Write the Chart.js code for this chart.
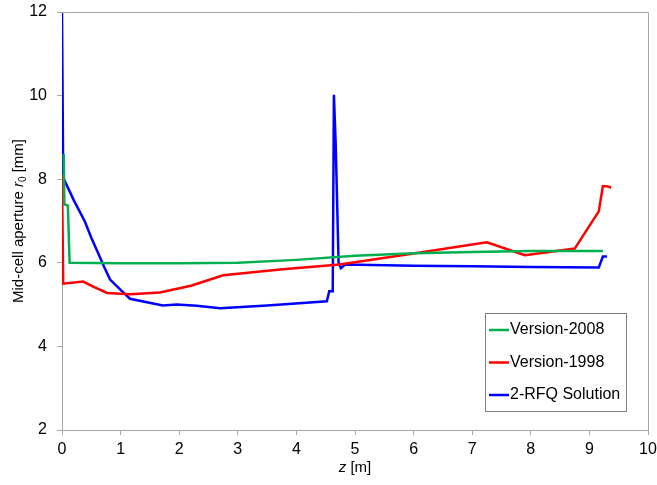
<!DOCTYPE html>
<html>
<head>
<meta charset="utf-8">
<script src="https://cdn.jsdelivr.net/npm/chart.js@4.4.0/dist/chart.umd.min.js"></script>
<style>
  html, body { margin: 0; padding: 0; background: #fff; }
  #wrap { width: 657px; height: 485px; }
</style>
</head>
<body>
<div id="wrap"><canvas id="chart" width="657" height="485"></canvas></div>
<script>
// z [m] and r0 [mm]
const zV2008 = [0.03, 0.04, 0.10, 0.13, 1, 2, 3, 4, 5, 6, 7, 8, 9.23];
const rV2008 = [8.6, 7.4, 7.37, 6.0, 5.99, 5.99, 6.0, 6.07, 6.17, 6.23, 6.26, 6.28, 6.28];

const zV1998 = [0.0, 0.02, 0.36, 0.55, 0.77, 1.16, 1.67, 2.2, 2.75, 3.72, 4.74, 6.0, 7.25, 7.9, 8.75, 9.16, 9.23, 9.3, 9.37];
const rV1998 = [8.1, 5.5, 5.55, 5.42, 5.28, 5.25, 5.29, 5.45, 5.7, 5.84, 5.96, 6.22, 6.49, 6.18, 6.34, 7.23, 7.83, 7.83, 7.8];

const zRFQ = [0.0, 0.02, 0.2, 0.39, 0.5, 0.61, 0.72, 0.82, 1.0, 1.16, 1.72, 1.96, 2.3, 2.7, 3.5, 4.52, 4.56, 4.62, 4.64, 4.67, 4.72, 4.76, 4.83, 6, 7, 8, 9.16, 9.23, 9.3];
const rRFQ = [12, 8.04, 7.5, 6.99, 6.6, 6.25, 5.9, 5.6, 5.35, 5.14, 4.98, 5.0, 4.97, 4.91, 4.98, 5.08, 5.32, 5.32, 10.02, 8.87, 6.0, 5.87, 5.96, 5.93, 5.92, 5.9, 5.89, 6.15, 6.15];

const seriesNames = ['Version-2008', 'Version-1998', '2-RFQ Solution'];
const seriesColors = ['#00b050', '#ff0000', '#0000ff'];

const xTicks = [0, 1, 2, 3, 4, 5, 6, 7, 8, 9, 10];
const yTicks = [2, 4, 6, 8, 10, 12];

const FONT = '"Liberation Sans", Arial, sans-serif';
const AXIS_GRAY = '#a6a6a6';

function toPoints(zs, rs) {
    return zs.map((z, i) => ({ x: z, y: rs[i] }));
}

const datasets = [
    toPoints(zV2008, rV2008),
    toPoints(zV1998, rV1998),
    toPoints(zRFQ, rRFQ)
].map((pts, i) => ({
    label: seriesNames[i],
    data: pts,
    borderColor: seriesColors[i],
    backgroundColor: seriesColors[i],
    borderWidth: 2.5,
    pointRadius: 0,
    showLine: true,
    tension: 0
}));

// frame, axis titles and the boxed legend
const decorPlugin = {
    id: 'decor',
    afterDraw(c) {
        const ctx = c.ctx;
        const a = c.chartArea;
        ctx.save();

        ctx.strokeStyle = AXIS_GRAY;
        ctx.lineWidth = 1;
        ctx.beginPath();
        ctx.moveTo(a.left, a.top + 0.5);
        ctx.lineTo(a.right + 0.5, a.top + 0.5);
        ctx.lineTo(a.right + 0.5, a.bottom);
        ctx.stroke();

        // x title: "z [m]"
        ctx.fillStyle = '#000';
        ctx.textBaseline = 'middle';
        ctx.font = 'italic 15px ' + FONT;
        const zw = ctx.measureText('z').width;
        ctx.font = '15px ' + FONT;
        const restX = ' [m]';
        const rw = ctx.measureText(restX).width;
        let x0 = (a.left + a.right) / 2 - (zw + rw) / 2;
        ctx.font = 'italic 15px ' + FONT;
        ctx.textAlign = 'left';
        ctx.fillText('z', x0, 468);
        ctx.font = '15px ' + FONT;
        ctx.fillText(restX, x0 + zw, 468);

        // y title: "Mid-cell aperture r0 [mm]"
        ctx.translate(19, 221);
        ctx.rotate(-Math.PI / 2);
        const parts = [
            { t: 'Mid-cell aperture ', f: '15px ' + FONT, dy: 0 },
            { t: 'r', f: 'italic 15px ' + FONT, dy: 0 },
            { t: '0', f: '10px ' + FONT, dy: 4 },
            { t: ' [mm]', f: '15px ' + FONT, dy: 0 }
        ];
        let total = 0;
        parts.forEach(p => { ctx.font = p.f; p.w = ctx.measureText(p.t).width; total += p.w; });
        let px = -total / 2;
        parts.forEach(p => {
            ctx.font = p.f;
            ctx.fillText(p.t, px, p.dy);
            px += p.w;
        });
        ctx.setTransform(1, 0, 0, 1, 0, 0);

        // legend
        const lx = 485, ly = 313, lw = 141, lh = 98;
        ctx.fillStyle = '#fff';
        ctx.fillRect(lx, ly, lw, lh);
        ctx.strokeStyle = '#7f7f7f';
        ctx.strokeRect(lx + 0.5, ly + 0.5, lw, lh);
        ctx.font = '16px ' + FONT;
        ctx.textAlign = 'left';
        ctx.textBaseline = 'middle';
        seriesNames.forEach((name, i) => {
            const y = ly + 17 + i * 32.5;
            ctx.strokeStyle = seriesColors[i];
            ctx.lineWidth = 2.5;
            ctx.beginPath();
            ctx.moveTo(lx + 4, y);
            ctx.lineTo(lx + 24, y);
            ctx.stroke();
            ctx.fillStyle = '#000';
            ctx.fillText(name, lx + 25, y);
        });
        ctx.restore();
    }
};

chart = new Chart(document.getElementById('chart').getContext('2d'), {
    type: 'scatter',
    data: { datasets: datasets },
    options: {
        responsive: false,
        animation: false,
        layout: { padding: { left: 0, top: 12, right: 9, bottom: 0 } },
        plugins: {
            legend: { display: false },
            tooltip: { enabled: false }
        },
        scales: {
            x: {
                type: 'linear',
                min: 0,
                max: 10,
                afterFit: s => { s.height = 55; s.paddingLeft = 0; s.paddingRight = 0; },
                afterBuildTicks: s => { s.ticks = xTicks.map(v => ({ value: v })); },
                grid: { drawOnChartArea: false, tickLength: 5, color: AXIS_GRAY },
                border: { color: AXIS_GRAY },
                ticks: { color: '#000', font: { family: FONT, size: 16 }, padding: 5, maxRotation: 0 }
            },
            y: {
                type: 'linear',
                min: 2,
                max: 12,
                afterFit: s => { s.width = 62; s.paddingTop = 0; s.paddingBottom = 0; },
                afterBuildTicks: s => { s.ticks = yTicks.map(v => ({ value: v })); },
                grid: { drawOnChartArea: false, tickLength: 5, color: AXIS_GRAY },
                border: { color: AXIS_GRAY },
                ticks: { color: '#000', font: { family: FONT, size: 16 }, padding: 10 }
            }
        }
    },
    plugins: [decorPlugin]
});
</script>
</body>
</html>
